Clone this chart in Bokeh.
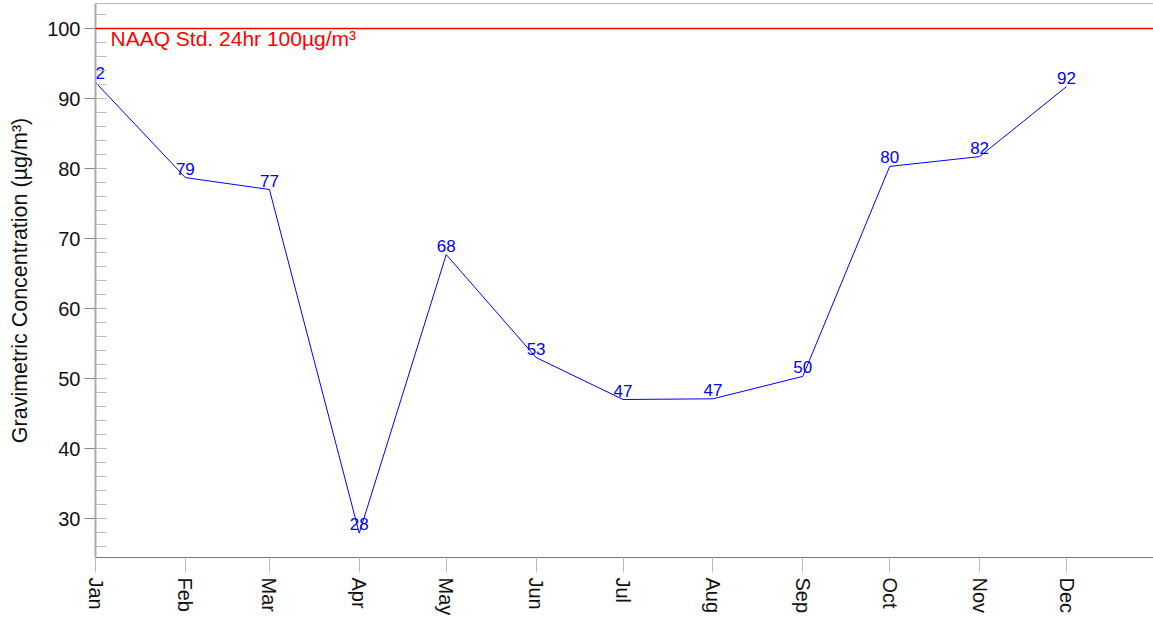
import math
from datetime import datetime
from bokeh.plotting import figure
from bokeh.models import (ColumnDataSource, Range1d, FixedTicker, SingleIntervalTicker,
                          DatetimeTickFormatter, Span, Label)
from bokeh.core.properties import value
from bokeh.embed import file_html
from bokeh.resources import INLINE

months = [datetime(2020, m, 1) for m in range(1, 13)]
concentration = [92.3, 78.7, 77.0, 27.9, 67.7, 53.0, 47.0, 47.1, 50.3, 80.3, 81.7, 91.7]
labels = [str(int(round(v))) for v in concentration]
standard_value = 100
standard_text = "NAAQ Std. 24hr 100µg/m³"
y_title = "Gravimetric Concentration (µg/m³)"

FONT = "Liberation Sans"
epoch = datetime(1970, 1, 1)
tick_ms = [(m - epoch).total_seconds() * 1000 for m in months]

src = ColumnDataSource(dict(x=months, y=concentration, t=labels))

y_top = 100 + 25 / 7
y_bot = 100 - 529 / 7

p = figure(width=1153, height=618, x_axis_type="datetime",
           x_range=Range1d(datetime(2020, 1, 1), datetime(2020, 12, 31)),
           y_range=Range1d(y_bot, y_top),
           output_backend="svg", toolbar_location=None,
           min_border_left=95, min_border_right=0, min_border_top=3, min_border_bottom=0)
p.outline_line_color = None
p.xgrid.visible = False
p.ygrid.visible = False
p.background_fill_color = "white"
p.border_fill_color = "white"

# y axis
p.yaxis.ticker = SingleIntervalTicker(interval=10, num_minor_ticks=5)
p.yaxis.axis_line_color = "#aaaaaa"
p.yaxis.axis_line_width = 2
p.yaxis.major_tick_in = 11
p.yaxis.major_tick_out = 11
p.yaxis.major_tick_line_color = "#888888"
p.yaxis.minor_tick_in = 11
p.yaxis.minor_tick_out = 0
p.yaxis.minor_tick_line_color = "#bbbbbb"
p.yaxis.major_label_text_font = FONT
p.yaxis.major_label_text_font_size = "20px"
p.yaxis.major_label_text_color = "#111111"
p.yaxis.major_label_standoff = 4
p.yaxis.axis_label = y_title
p.yaxis.axis_label_text_font = FONT
p.yaxis.axis_label_text_font_size = "21.5px"
p.yaxis.axis_label_text_font_style = "normal"
p.yaxis.axis_label_text_color = "#111111"
p.yaxis.axis_label_standoff = 12

# x axis
fmt = "%b"
p.xaxis.ticker = FixedTicker(ticks=tick_ms)
p.xaxis.formatter = DatetimeTickFormatter(milliseconds=fmt, seconds=fmt, minsec=fmt, minutes=fmt,
                                          hourmin=fmt, hours=fmt, days=fmt, months=fmt, years=fmt)
p.xaxis.major_label_orientation = -math.pi / 2
p.xaxis.axis_line_color = "#777777"
p.xaxis.major_tick_in = 0
p.xaxis.major_tick_out = 15
p.xaxis.major_tick_line_color = "#bbbbbb"
p.xaxis.minor_tick_line_color = None
p.xaxis.major_label_text_font = FONT
p.xaxis.major_label_text_font_size = "20px"
p.xaxis.major_label_text_color = "#111111"
p.xaxis.major_label_standoff = 5

# top border
p.add_layout(Span(location=y_top, dimension="width", line_color="#777777", line_width=1))

# standard line
p.add_layout(Span(location=standard_value, dimension="width", line_color="red", line_width=1.3))
p.add_layout(Label(x=months[0], y=standard_value, x_offset=15, y_offset=2, text=standard_text,
                   text_font=FONT, text_font_size="21px", text_color="red", text_baseline="top"))

p.line("x", "y", source=src, line_color="blue", line_width=1)
p.text("x", "y", text="t", source=src, text_align="center", text_baseline="bottom",
       y_offset=-3, text_font=value(FONT), text_font_size="17px", text_color="blue")

open("out.html", "w").write(file_html(p, INLINE))
